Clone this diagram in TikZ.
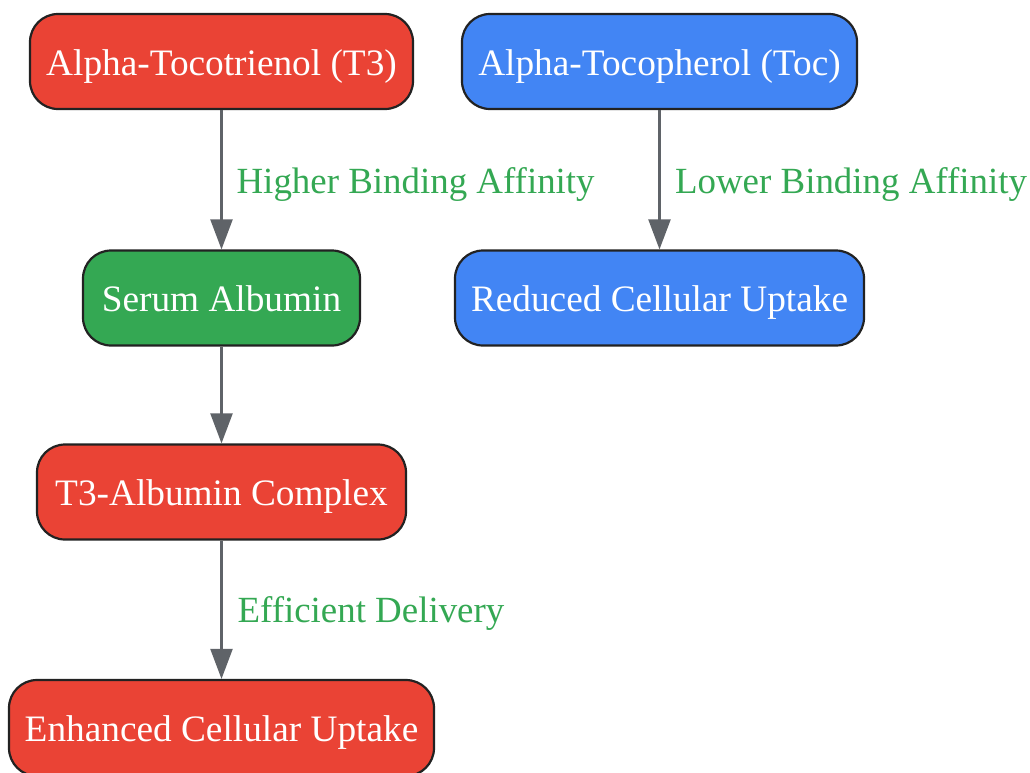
\documentclass[tikz,border=0pt]{standalone}
\usepackage{fontspec}
\setmainfont{Liberation Serif}
\usetikzlibrary{arrows.meta}
\definecolor{gred}{HTML}{EA4335}
\definecolor{gblue}{HTML}{4285F4}
\definecolor{ggreen}{HTML}{34A853}
\definecolor{edgecol}{HTML}{222222}
\definecolor{arrcol}{HTML}{5F6368}
\tikzset{
  box/.style={draw=edgecol, line width=2.2pt, rounded corners=28pt, inner sep=0pt,
    text=white, font=\fontsize{37.3}{40}\selectfont, minimum height=95pt,
    text height=27pt, text depth=0pt},
  redbox/.style={box, fill=gred},
  bluebox/.style={box, fill=gblue},
  greenbox/.style={box, fill=ggreen},
  arr/.style={draw=arrcol, line width=2.2pt, -{Triangle[length=30pt,width=22pt]}},
  lbl/.style={text=ggreen, font=\fontsize{36.9}{40}\selectfont, anchor=west, inner sep=0pt,
    text height=26pt, text depth=0pt}
}
\begin{document}
\begin{tikzpicture}[x=1pt,y=1pt]
\useasboundingbox (0,0) rectangle (1030,-772);
\node[redbox, minimum width=383pt] (t3) at (221.5,-61.5) {Alpha-Tocotrienol (T3)};
\node[bluebox, minimum width=395pt] (toc) at (659.5,-61.5) {Alpha-Tocopherol (Toc)};
\node[greenbox, minimum width=277pt] (alb) at (221.5,-298) {Serum Albumin};
\node[bluebox, minimum width=409pt] (red) at (659.5,-298) {Reduced Cellular Uptake};
\node[redbox, minimum width=369pt] (cx) at (221.5,-492) {T3-Albumin Complex};
\node[redbox, minimum width=425pt, minimum height=96pt] (enh) at (221.5,-728) {Enhanced Cellular Uptake};
\draw[arr] (t3) -- node[lbl, xshift=14pt, yshift=-0.5pt] {Higher Binding Affinity} (alb);
\draw[arr] (toc) -- node[lbl, xshift=14.5pt, yshift=-0.5pt] {Lower Binding Affinity} (red);
\draw[arr] (alb) -- (cx);
\draw[arr] (cx) -- node[lbl, xshift=15pt, yshift=0pt] {Efficient Delivery} (enh);
\end{tikzpicture}
\end{document}
